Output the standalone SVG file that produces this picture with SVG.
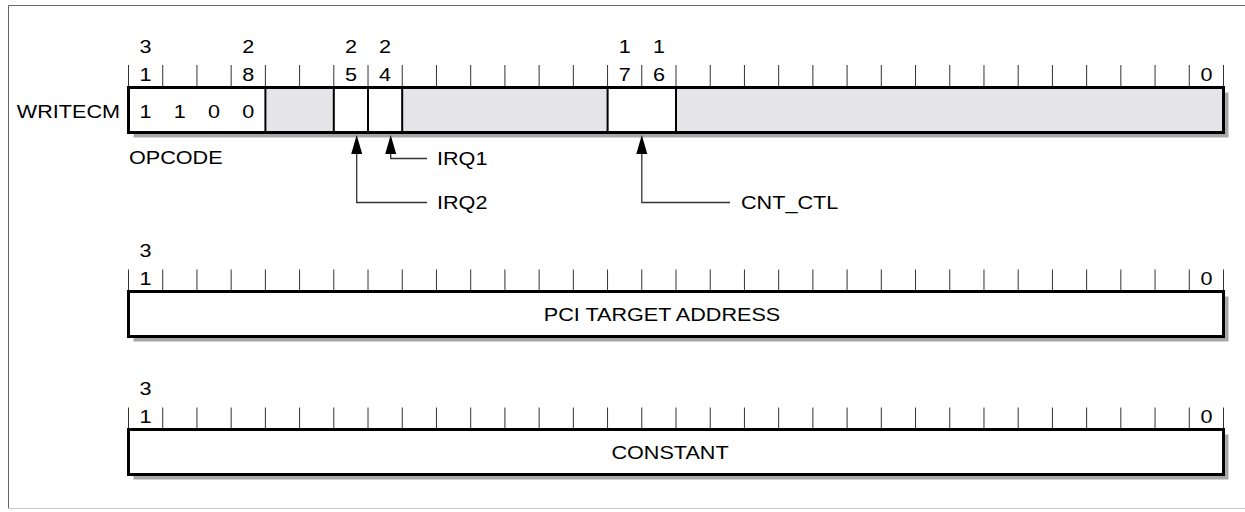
<svg xmlns="http://www.w3.org/2000/svg" width="1245" height="512" viewBox="0 0 1245 512">
<defs>
<style>
text{font-family:"Liberation Sans",Arial,sans-serif;font-size:18px;fill:#000}
.c{text-anchor:middle}
.e{text-anchor:end}
.tick{stroke:#333;stroke-width:1}
.box{fill:none;stroke:#000;stroke-width:3}
.div{stroke:#000;stroke-width:2}
.sh{fill:#a8a8a8}
.g{fill:#e5e4e8}
.w{fill:#fff}
.ln{fill:none;stroke:#333;stroke-width:1.3}
.ah{fill:#000}
</style>
<g id="ticks">
<path class="tick" d="M128.5,0V22M162.72,0V22M196.94,0V22M231.16,0V22M265.38,0V22M299.59,0V22M333.81,0V22M368.03,0V22M402.25,0V22M436.47,0V22M470.69,0V22M504.91,0V22M539.13,0V22M573.34,0V22M607.56,0V22M641.78,0V22M676,0V22M710.22,0V22M744.44,0V22M778.66,0V22M812.88,0V22M847.09,0V22M881.31,0V22M915.53,0V22M949.75,0V22M983.97,0V22M1018.19,0V22M1052.41,0V22M1086.63,0V22M1120.84,0V22M1155.06,0V22M1189.28,0V22M1223.5,0V22"/>
</g>
</defs>
<rect width="1245" height="512" fill="#fff"/>
<path d="M1245,5.5H8.5V508.5" fill="none" stroke="#666" stroke-width="1"/>
<path d="M8.5,508.5H1245" fill="none" stroke="#c8c8c8" stroke-width="1"/>

<g id="reg-writecm">
<use href="#ticks" y="65"/>
<text class="c" transform="translate(145.6,53) scale(1.2,1)">3</text>
<text class="c" transform="translate(248.3,53) scale(1.2,1)">2</text>
<text class="c" transform="translate(350.9,53) scale(1.2,1)">2</text>
<text class="c" transform="translate(385.1,53) scale(1.2,1)">2</text>
<text class="c" transform="translate(624.7,53) scale(1.2,1)">1</text>
<text class="c" transform="translate(658.9,53) scale(1.2,1)">1</text>
<text class="c" transform="translate(145.6,81) scale(1.2,1)">1</text>
<text class="c" transform="translate(248.3,81) scale(1.2,1)">8</text>
<text class="c" transform="translate(350.9,81) scale(1.2,1)">5</text>
<text class="c" transform="translate(385.1,81) scale(1.2,1)">4</text>
<text class="c" transform="translate(624.7,81) scale(1.2,1)">7</text>
<text class="c" transform="translate(658.9,81) scale(1.2,1)">6</text>
<text class="c" transform="translate(1206.4,81) scale(1.2,1)">0</text>
<rect class="sh" x="133.5" y="92.5" width="1095" height="45"/>
<rect class="g" x="128.5" y="87.5" width="1095" height="45"/>
<rect class="w" x="128.5" y="87.5" width="136.9" height="45"/>
<rect class="w" x="333.8" y="87.5" width="68.4" height="45"/>
<rect class="w" x="607.6" y="87.5" width="68.4" height="45"/>
<path class="div" d="M265.4,87.5V132.5M333.8,87.5V132.5M368,87.5V132.5M402.2,87.5V132.5M607.6,87.5V132.5M676,87.5V132.5"/>
<rect class="box" x="128.5" y="87.5" width="1095" height="45"/>
<text class="e" transform="translate(120,118) scale(1.2,1)">WRITECM</text>
<text class="c" transform="translate(145.6,118) scale(1.2,1)">1</text>
<text class="c" transform="translate(179.8,118) scale(1.2,1)">1</text>
<text class="c" transform="translate(214,118) scale(1.2,1)">0</text>
<text class="c" transform="translate(248.3,118) scale(1.2,1)">0</text>
<text transform="translate(129,164) scale(1.2,1)">OPCODE</text>
</g>

<g id="label-irq1"><text transform="translate(437,165) scale(1.2,1)">IRQ1</text></g>
<g id="label-irq2"><text transform="translate(437,209) scale(1.2,1)">IRQ2</text></g>
<g id="label-cntctl"><text transform="translate(741,209) scale(1.2,1)">CNT_CTL</text></g>

<g id="connectors">
<path class="ln" d="M427,158.5H390.7V152"/>
<polygon class="ah" points="390.7,135 385.2,154 396.2,154"/>
<path class="ln" d="M427,202.5H356.7V152"/>
<polygon class="ah" points="356.7,135 351.2,154 362.2,154"/>
<path class="ln" d="M730,202.5H641.8V152"/>
<polygon class="ah" points="641.8,135 636.3,154 647.3,154"/>
</g>

<g id="reg-pci">
<use href="#ticks" y="269.5"/>
<text class="c" transform="translate(145.6,257) scale(1.2,1)">3</text>
<text class="c" transform="translate(145.6,285) scale(1.2,1)">1</text>
<text class="c" transform="translate(1206.4,285) scale(1.2,1)">0</text>
<rect class="sh" x="133.5" y="296.5" width="1095" height="45"/>
<rect class="w" x="128.5" y="291.5" width="1095" height="45"/>
<rect class="box" x="128.5" y="291.5" width="1095" height="45"/>
<text class="c" transform="translate(662,321) scale(1.2,1)">PCI TARGET ADDRESS</text>
</g>

<g id="reg-constant">
<use href="#ticks" y="407.5"/>
<text class="c" transform="translate(145.6,395) scale(1.2,1)">3</text>
<text class="c" transform="translate(145.6,423) scale(1.2,1)">1</text>
<text class="c" transform="translate(1206.4,423) scale(1.2,1)">0</text>
<rect class="sh" x="133.5" y="434.5" width="1095" height="45"/>
<rect class="w" x="128.5" y="429.5" width="1095" height="45"/>
<rect class="box" x="128.5" y="429.5" width="1095" height="45"/>
<text class="c" transform="translate(670,459) scale(1.2,1)">CONSTANT</text>
</g>
</svg>
